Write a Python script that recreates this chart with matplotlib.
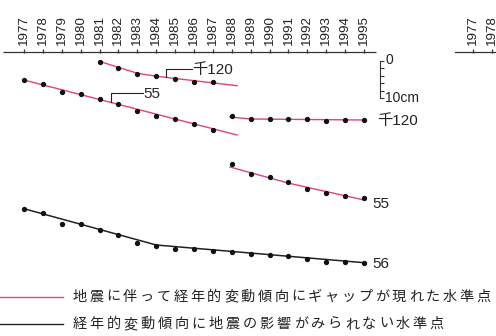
import numpy as np
import matplotlib.pyplot as plt

plt.rcParams['font.family'] = ['Liberation Sans', 'Noto Sans CJK JP', 'DejaVu Sans']

# 水準点の累積変動量 [cm]（下向きが沈降）
years = list(range(1977, 1996))

# 千120：1988年を境にギャップ
bm120_pre_yr = [1981, 1982, 1983, 1984, 1985, 1986, 1987]
bm120_pre = [0.4, 2.08, 3.6, 4.21, 4.85, 5.65, 5.81]
bm120_post_yr = [1988, 1989, 1990, 1991, 1992, 1993, 1994, 1995]
bm120_post = [14.72, 15.6, 15.6, 15.6, 15.6, 16.13, 15.87, 15.87]

# 55：1988年を境にギャップ
bm55_pre_yr = list(range(1977, 1988))
bm55_pre = [5.2, 6.27, 8.4, 8.85, 10.27, 11.6, 13.47, 14.88, 15.6, 16.93, 18.4]
bm55_post_yr = list(range(1988, 1996))
bm55_post = [27.68, 30.35, 31.15, 32.48, 34.35, 35.41, 36.13, 36.59]

# 56：ギャップなし
bm56 = [39.52, 40.75, 43.68, 43.6, 45.12, 46.61, 48.59, 49.47, 50.19, 50.35,
        50.72, 50.99, 51.68, 51.95, 52.13, 52.93, 53.73, 53.73, 53.92]

# 傾向線
tr120_pre_x = [1981.1, 1983, 1984, 1988.28]
tr120_pre_y = [0.4, 3.41, 4.2, 6.72]
tr120_post_x = [1987.9, 1989, 1995]
tr120_post_y = [15.07, 15.6, 15.87]
tr55_pre_x = [1977, 1988.28]
tr55_pre_y = [5.2, 19.87]
tr55_post_x = [1987.9, 1991, 1995]
tr55_post_y = [28.4, 32.7, 37.2]
tr56_x = [1977, 1984, 1995]
tr56_y = [39.52, 49.2, 53.92]

legend_labels = ['地震に伴って経年的変動傾向にギャップが現れた水準点',
                 '経年的変動傾向に地震の影響がみられない水準点']

RED = '#e0466a'
W, H = 496, 336
PX_YR = 18.89   # px / 年
PX_CM = 3.75    # px / cm
X0_PX, Y0_PX = 24, 60.5


def xlim_for(left_px, x0_px, w_px):
    return (1977 - (x0_px - left_px) / PX_YR, 1977 + (left_px + w_px - x0_px) / PX_YR)


ylim = ((H - Y0_PX) / PX_CM, -Y0_PX / PX_CM)

fig = plt.figure(figsize=(W / 100, H / 100), dpi=100)
ax = fig.add_axes([0, 0, 1, 1])
ax.set_xlim(*xlim_for(0, X0_PX, W))
ax.set_ylim(*ylim)
ax.axis('off')


def year_axis(a, yrs, x_from, x_to):
    ya = -8.5 / PX_CM
    a.plot([x_from, x_to], [ya, ya], color='#333333', lw=0.9, solid_capstyle='butt')
    a.vlines(yrs, ya - 3 / PX_CM, ya + 1.2 / PX_CM, color='#333333', lw=0.9)
    for y in yrs:
        a.text(y, ya - 7 / PX_CM, str(y), rotation=90, ha='center', va='bottom',
               fontsize=9.6, color='#222222')


year_axis(ax, years, 1975.89, 1995.63)

# 右側の次の図（一部）
ax2 = fig.add_axes([455 / W, 0, 41 / W, 1])
ax2.set_xlim(*xlim_for(455, 473, 41))
ax2.set_ylim(*ylim)
ax2.axis('off')
year_axis(ax2, [1977, 1978], 1976.0, 1979.0)

# 傾向線と観測値
for tx, ty, c, lw in [(tr120_pre_x, tr120_pre_y, RED, 1.0),
                      (tr120_post_x, tr120_post_y, RED, 1.0),
                      (tr55_pre_x, tr55_pre_y, RED, 1.0),
                      (tr55_post_x, tr55_post_y, RED, 1.0),
                      (tr56_x, tr56_y, '#222222', 1.1)]:
    ax.plot(tx, ty, color=c, lw=lw, zorder=2)

for xs, ys in [(bm120_pre_yr, bm120_pre), (bm120_post_yr, bm120_post),
               (bm55_pre_yr, bm55_pre), (bm55_post_yr, bm55_post),
               (years, bm56)]:
    ax.plot(xs, ys, 'o', color='#111111', ms=2.8, zorder=3)

# 引き出し線付きラベル
def leader(x, ytop, xtext, yline, label):
    ax.plot([x, x, xtext], [yline, ytop, ytop], color='#222222', lw=0.8)
    ax.text(xtext + 0.05, ytop + 0.3, label, ha='left', va='center', fontsize=11,
            color='#222222')


lx = 1984.52
leader(lx, 2.27, 1985.87, np.interp(lx, tr120_pre_x, tr120_pre_y), '千120')
lx = 1981.6
leader(lx, 8.75, 1983.28, np.interp(lx, tr55_pre_x, tr55_pre_y), '55')

# 右端ラベル
ax.text(1995.69, bm120_post[-1] + 0.2, '千120', ha='left', va='center', fontsize=11, color='#222222')
ax.text(1995.42, bm55_post[-1] + 1.7, '55', ha='left', va='center', fontsize=11, color='#222222')
ax.text(1995.42, bm56[-1] + 0.35, '56', ha='left', va='center', fontsize=11, color='#222222')

# スケール 0〜10cm
sx = 1995.85
ax.plot([sx, sx], [0, 10], color='#333333', lw=0.8)
ax.hlines(np.arange(0, 11, 2), sx, sx + 4 / PX_YR, color='#333333', lw=0.8)
ax.text(sx + 5 / PX_YR, -0.2, '0', ha='left', va='center', fontsize=10, color='#222222')
ax.text(sx + 5 / PX_YR, 10, '10cm', ha='left', va='center', fontsize=10, color='#222222')

# 凡例（文字間隔を空けて1文字ずつ配置）
lax = fig.add_axes([0, 0, 1, 1])
lax.set_xlim(0, W)
lax.set_ylim(H, 0)
lax.axis('off')
for label, col, yl, x_end in [(legend_labels[0], RED, 296.5, 493),
                              (legend_labels[1], '#222222', 324, 447)]:
    lax.plot([0, 63], [yl, yl], color=col, lw=1.0)
    pitch = (x_end - 73) / len(label)
    for k, ch in enumerate(label):
        lax.text(73 + 6.8 + k * pitch, yl, ch, ha='center', va='center',
                 fontsize=10.2, family=['Noto Sans CJK JP'], color='#222222')

fig.savefig('out.png', dpi=100)
